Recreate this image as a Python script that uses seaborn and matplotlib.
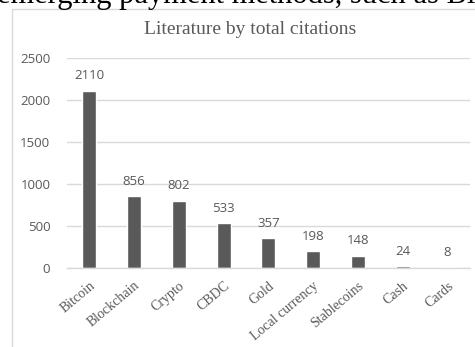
import matplotlib
matplotlib.use("Agg")
import matplotlib.pyplot as plt
from matplotlib.patches import Rectangle
import seaborn as sns

# ----------------------------------------------------------
# Data
# ----------------------------------------------------------
categories = ["Bitcoin", "Blockchain", "Crypto", "CBDC", "Gold",
              "Local currency", "Stablecoins", "Cash", "Cards"]
citations = [2110, 856, 802, 533, 357, 198, 148, 24, 8]
y_ticks = [0, 500, 1000, 1500, 2000, 2500]

BAR = "#595959"
GRID = "#d9d9d9"
TEXT = "#595959"

sns.set_theme(style="white")

fig = plt.figure(figsize=(4.75, 3.47), dpi=100)
ax = fig.add_axes([0.141, 0.2277, 0.848, 0.6052])

sns.barplot(x=categories, y=citations, color=BAR, saturation=1,
            width=0.31, ax=ax)

ax.set_ylim(0, 2500)
ax.set_yticks(y_ticks)
ax.set_yticklabels([str(t) for t in y_ticks], fontfamily="Open Sans",
                   fontsize=9.5, color=TEXT)
ax.yaxis.grid(True, color=GRID, linewidth=1)
ax.set_axisbelow(True)
ax.tick_params(axis="y", length=0, pad=12)
ax.tick_params(axis="x", length=0, pad=8)
for s in ["top", "right", "left"]:
    ax.spines[s].set_visible(False)
ax.spines["bottom"].set_color(GRID)
ax.spines["bottom"].set_linewidth(1)

ax.set_xticks(range(len(categories)))
ax.set_xticklabels(categories, rotation=40, ha="right", rotation_mode="anchor",
                   fontfamily="Liberation Serif", fontsize=10, color=TEXT)
ax.set_xlabel("")
ax.set_ylabel("")

ax.bar_label(ax.containers[0], padding=6, fontfamily="Open Sans",
             fontsize=9.5, color=TEXT)

# chart title
fig.text(0.527, 1 - 30 / 347, "Literature by total citations",
         ha="center", va="center", fontfamily="Liberation Serif",
         fontsize=14, color=TEXT)

# chart frame (cut by the page)
fig.patches.append(Rectangle((12 / 475, -0.2), 1.2, 1.2 - 9 / 347,
                             transform=fig.transFigure, fill=False,
                             edgecolor=GRID, linewidth=1))

# body text from the page above the chart, cut at the top
fig.text(-0.006, 1 - 3.5 / 347, "emerging payment methods, such as Bitcoin",
         ha="left", va="baseline", fontfamily="Liberation Serif",
         fontsize=22, color="black")

fig.savefig("out.png", dpi=100)
